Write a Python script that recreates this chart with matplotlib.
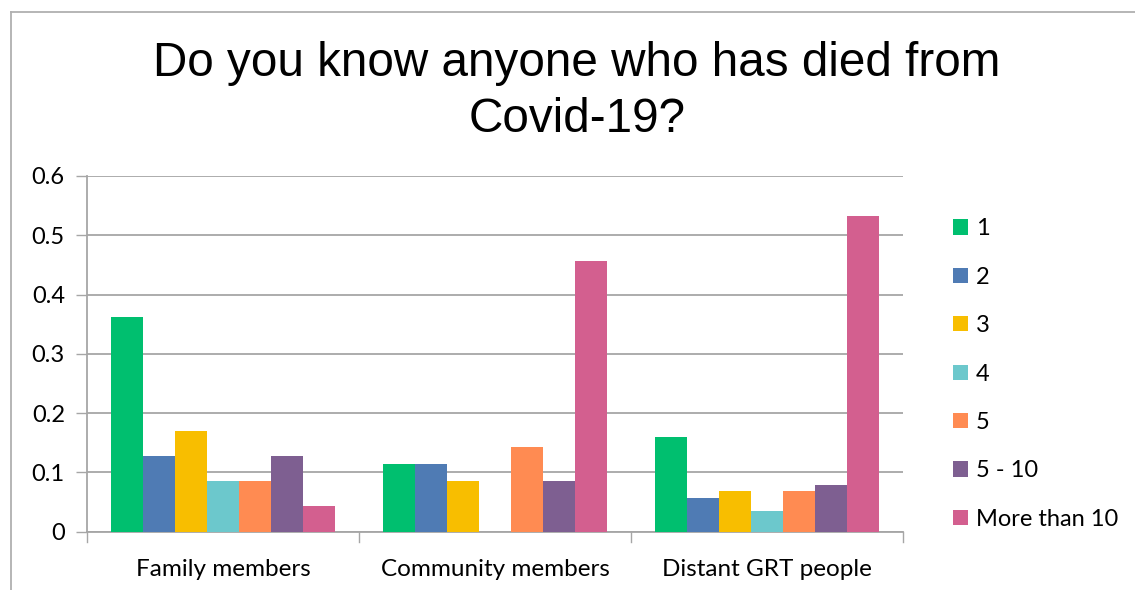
import numpy as np
import matplotlib.pyplot as plt
from matplotlib.lines import Line2D

# Survey answers, share of respondents per group
categories = ['Family members', 'Community members', 'Distant GRT people']
series_labels = ['1', '2', '3', '4', '5', '5 - 10', 'More than 10']
one = [0.362, 0.114, 0.159]
two = [0.128, 0.114, 0.056]
three = [0.170, 0.086, 0.069]
four = [0.085, 0.0, 0.034]
five = [0.085, 0.143, 0.069]
five_to_ten = [0.128, 0.086, 0.079]
more_than_ten = [0.043, 0.457, 0.533]

series_values = [one, two, three, four, five, five_to_ten, more_than_ten]
colors = ['#00BF6F', '#4F7BB4', '#F8BE00', '#6CC8CC', '#FF8B52', '#7E5F91', '#D35F8F']

title_font = 'Liberation Sans'
body_font = 'Lato'
grid_col = '#A6A6A6'

fig = plt.figure(figsize=(11.35, 5.9), dpi=100)
ax = fig.add_axes([87 / 1135, 1 - 531.5 / 590, (903 - 87) / 1135, (531.5 - 176) / 590])

n = len(series_values)
width = 1 / (n + 1.5)
x = np.arange(len(categories))
handles = []
for i, (vals, col, lab) in enumerate(zip(series_values, colors, series_labels)):
    offset = (i - (n - 1) / 2) * width
    bars = ax.bar(x + offset, vals, width, color=col, label=lab, zorder=3)
    handles.append(bars)

ax.set_xlim(-0.5, len(categories) - 0.5)
ax.set_ylim(0, 0.6)
ax.set_yticks(np.arange(0, 0.61, 0.1))
ax.set_yticklabels(['0', '0.1', '0.2', '0.3', '0.4', '0.5', '0.6'],
                   fontsize=17, family=body_font)
ax.yaxis.grid(True, color=grid_col, lw=1.3, zorder=0)
ax.tick_params(axis='y', length=8, color=grid_col, width=1, pad=8)

# category labels in the middle, tick marks at group boundaries
ax.set_xticks(x)
ax.set_xticklabels(categories, fontsize=17.5, family=body_font)
ax.tick_params(axis='x', length=0, pad=20)
for b in np.arange(-0.5, len(categories), 1.0):
    ax.plot([b, b], [0, -0.018], color=grid_col, lw=1, clip_on=False, zorder=4)

for side in ['top', 'right']:
    ax.spines[side].set_visible(False)
for side in ['left', 'bottom']:
    ax.spines[side].set_color(grid_col)
    ax.spines[side].set_linewidth(1.3)

ax.legend(handles=handles, loc='center left', bbox_to_anchor=(1.05, 0.443),
          frameon=False, prop={'family': body_font, 'size': 17},
          handlelength=0.62, handleheight=0.62, handletextpad=0.35,
          labelspacing=1.16, borderaxespad=0)

fig.text(577 / 1135, 1 - 91.5 / 590, 'Do you know anyone who has died from\nCovid-19?',
         ha='center', va='center', fontsize=34.3, family=title_font,
         linespacing=1.34)

# outer chart border
fig.add_artist(Line2D([11 / 1135, 11 / 1135], [0, 1 - 12 / 590],
                      color='#B0B0B0', lw=1.3))
fig.add_artist(Line2D([11 / 1135, 1], [1 - 12 / 590, 1 - 12 / 590],
                      color='#B0B0B0', lw=1.3))

fig.savefig('out.png', dpi=100, facecolor='white')
